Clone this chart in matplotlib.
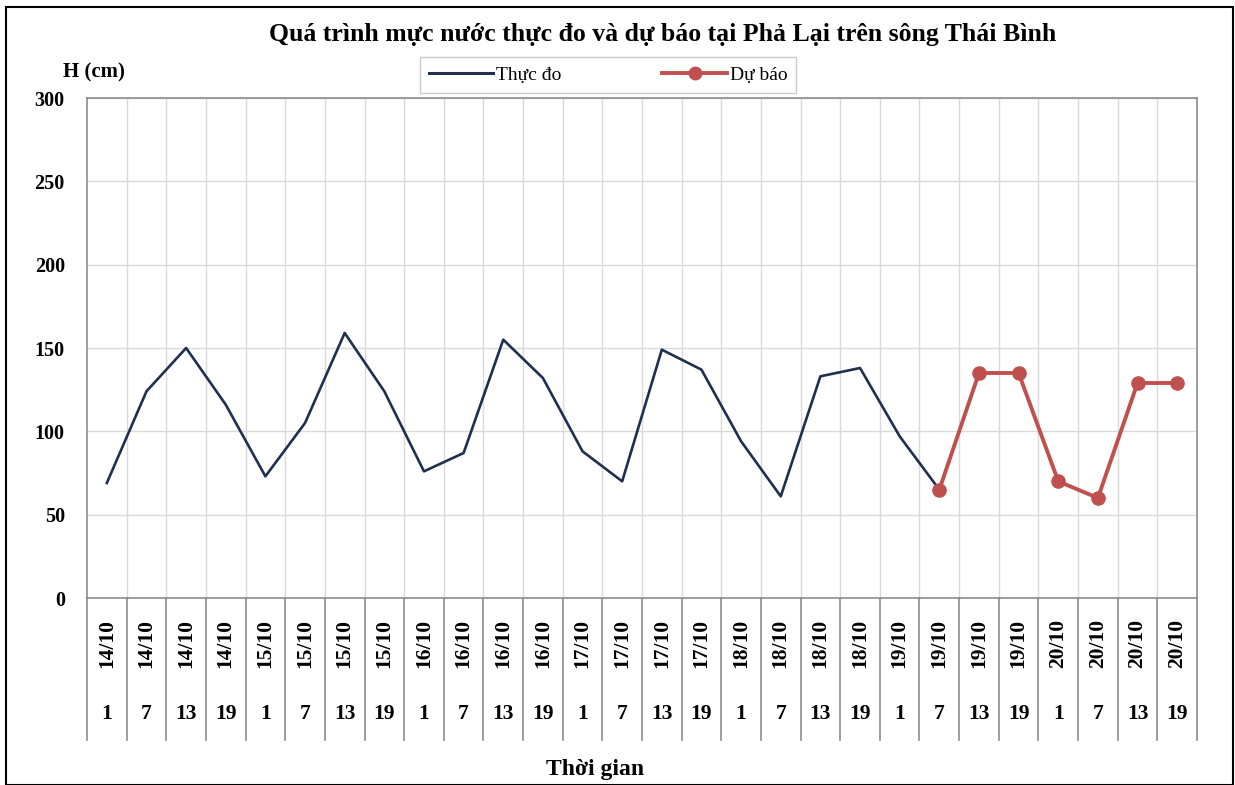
import matplotlib
matplotlib.use('Agg')
import matplotlib.pyplot as plt
from matplotlib.patches import Rectangle
from matplotlib.lines import Line2D

plt.rcParams['font.family'] = ['Liberation Serif', 'DejaVu Serif']

dates = ['14/10'] * 4 + ['15/10'] * 4 + ['16/10'] * 4 + ['17/10'] * 4 + \
        ['18/10'] * 4 + ['19/10'] * 4 + ['20/10'] * 4
hours = ['1', '7', '13', '19'] * 7

observed = [69, 124, 150, 116, 73, 105, 159, 124, 76, 87, 155, 132,
            88, 70, 149, 137, 94, 61, 133, 138, 97, 65]
forecast = [65, 135, 135, 70, 60, 129, 129]
forecast_start = 21

W, H = 1235, 785
fig = plt.figure(figsize=(W / 100, H / 100), dpi=100)
left, right, top, bottom = 87, 1197, 98, 598
ax = fig.add_axes([left / W, 1 - bottom / H, (right - left) / W, (bottom - top) / H])

n = len(dates)
x_obs = [i + 0.5 for i in range(len(observed))]
x_fc = [forecast_start + i + 0.5 for i in range(len(forecast))]

navy = '#1f2f4d'
red = '#c0504d'
ax.plot(x_obs, observed, color=navy, lw=1.9, zorder=3)
ax.plot(x_fc, forecast, color=red, lw=2.8, marker='o', ms=9.5, zorder=4)

ax.set_xlim(0, n)
ax.set_ylim(0, 300)
ax.set_yticks(range(0, 301, 50))
ax.set_xticks([])
for k in range(1, n):
    ax.axvline(k, color='#d9d9d9', lw=1, zorder=1)
for v in range(50, 301, 50):
    ax.axhline(v, color='#d9d9d9', lw=1, zorder=1)
for s in ax.spines.values():
    s.set_color('#8c8c8c')
    s.set_linewidth(1.2)
ax.tick_params(axis='y', length=0, pad=16, labelsize=14.5)
for t in ax.get_yticklabels():
    t.set_fontweight('bold')

# category label area
trans = ax.get_xaxis_transform()
sep_y = (bottom - 740) / (bottom - top)
date_y = (bottom - 643) / (bottom - top)
hour_y = (bottom - 714) / (bottom - top)
for k in range(n + 1):
    ax.plot([k, k], [0, sep_y], color='#8c8c8c', lw=1.2, transform=trans, clip_on=False)
for i in range(n):
    ax.text(i + 0.5, date_y, dates[i], transform=trans, rotation=90, ha='center',
            va='center', fontsize=15.5, fontweight='bold')
    ax.text(i + 0.5, hour_y, hours[i], transform=trans, ha='center', va='center',
            fontsize=15.5, fontweight='bold')

fig.text(663 / W, 1 - 35 / H, 'Quá trình mực nước thực đo và dự báo tại Phả Lại trên sông Thái Bình',
         ha='center', va='center', fontsize=18.5, fontweight='bold')
fig.text(94 / W, 1 - 72 / H, 'H (cm)', ha='center', va='center', fontsize=15, fontweight='bold')
fig.text(595 / W, 1 - 769 / H, 'Thời gian', ha='center', va='center', fontsize=17, fontweight='bold')

handles = [Line2D([], [], color=navy, lw=2.2),
           Line2D([], [], color=red, lw=2.8, marker='o', ms=9)]
leg = fig.legend(handles, ['Thực đo', 'Dự báo'], loc='center', ncol=2,
                 bbox_to_anchor=(608 / W, 1 - 75 / H), frameon=True, fancybox=False,
                 fontsize=14, handlelength=3.3, columnspacing=5.2, borderpad=0.45,
                 handletextpad=0.15, borderaxespad=0)
leg.get_frame().set_edgecolor('#bfbfbf')
leg.get_frame().set_linewidth(1)
leg._legend_box.align = 'center'

fig.patches.append(Rectangle((6 / W, 0), 1227 / W, 1 - 7 / H, transform=fig.transFigure,
                             fill=False, edgecolor='black', lw=1.5))

fig.savefig('out.png', dpi=100)
